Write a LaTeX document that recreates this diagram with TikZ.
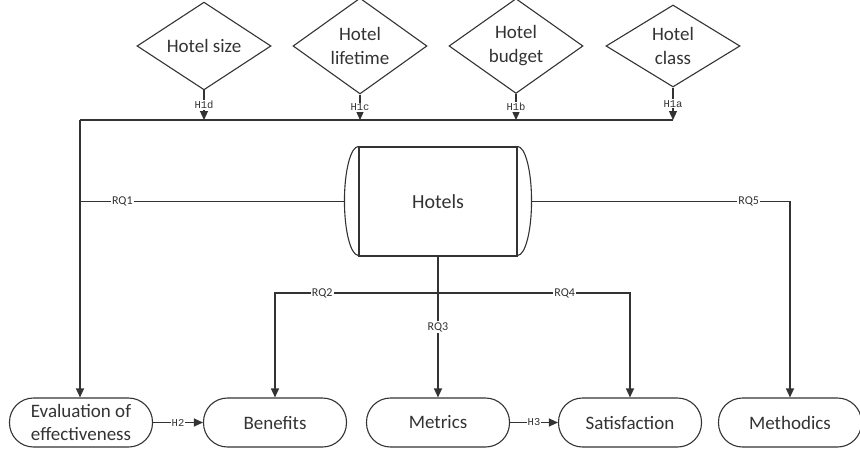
\documentclass[tikz,border=0pt]{standalone}
\usepackage{fontspec}
\usepackage{tikz}
\setmainfont{Carlito}
\newfontfamily\labelfont{Liberation Mono}
\usetikzlibrary{shapes.geometric,arrows.meta,positioning}

\begin{document}
\begin{tikzpicture}[x=1pt,y=-1pt,line width=1.1pt,color=black!80,
    factor/.style={diamond, draw, minimum width=134pt, minimum height=82pt, inner sep=0pt, align=center, font=\fontsize{19}{24}\selectfont},
    outcome/.style={rectangle, rounded corners=24pt, draw, minimum width=143pt, minimum height=49pt, inner sep=0pt, align=center, font=\fontsize{19}{23}\selectfont},
    rqlab/.style={fill=white, inner sep=1pt, font=\fontsize{12}{13}\selectfont},
    hlab/.style={fill=white, inner sep=1pt, font=\labelfont\fontsize{10.5}{11}\selectfont},
    arr/.style={-{Triangle[width=8pt,length=9pt]}}]
    \useasboundingbox (0,0) rectangle (860,450);

    % hotel factors
    \node (size) [factor] at (204,46) {Hotel size};
    \node (lifetime) [factor] at (360,46) {Hotel\\lifetime};
    \node (budget) [factor] at (516,46) {Hotel\\budget};
    \node (class) [factor] at (673,46) {Hotel\\class};

    % central object
    \node (hotels) [rectangle, draw, minimum width=158pt, minimum height=109pt, font=\fontsize{20}{24}\selectfont] at (438,201.5) {Hotels};
    \draw (hotels.north west) arc[start angle=-90, end angle=-270, x radius=14, y radius=54.5];
    \draw (hotels.north east) arc[start angle=-90, end angle=90, x radius=14, y radius=54.5];
    \coordinate (hotelsL) at ([xshift=-14pt]hotels.west);
    \coordinate (hotelsR) at ([xshift=14pt]hotels.east);

    % outcomes
    \node (eval) [outcome] at (81,422.5) {Evaluation of\\effectiveness};
    \node (benefits) [outcome] at (275,422.5) {Benefits};
    \node (metrics) [outcome] at (438,422.5) {Metrics};
    \node (satisf) [outcome] at (630,422.5) {Satisfaction};
    \node (method) [outcome] at (790,422.5) {Methodics};

    \coordinate (busL) at (80,120);
    \coordinate (busR) at (673,120);
    \coordinate (split) at (438,293);

    % bus from the factors
    \draw[line width=1.4pt] (busR) -- (busL);
    \draw[arr] (busL) -- (busL |- eval.north);
    \draw[arr] (size) -- (size |- busL) node[midway, hlab] {H1d};
    \draw[arr] (lifetime) -- (lifetime |- busL) node[midway, hlab] {H1c};
    \draw[arr] (budget) -- (budget |- busL) node[midway, hlab] {H1b};
    \draw[arr] (class) -- (class |- busL) node[midway, hlab] {H1a};

    % research questions
    \draw (hotelsL) -- (hotelsL -| busL) node[pos=0.84, rqlab] {RQ1};
    \draw[arr] (hotelsR) -| (method) node[pos=0.42, rqlab] {RQ5};
    \draw[arr] (hotels) -- (metrics) node[pos=0.5, rqlab] {RQ3};
    \draw[arr] (split) -| (benefits) node[pos=0.355, rqlab] {RQ2};
    \draw[arr] (split) -| (satisf) node[pos=0.33, rqlab] {RQ4};

    % hypotheses
    \draw[arr] (eval) -- (benefits) node[midway, hlab] {H2};
    \draw[arr] (metrics) -- (satisf) node[midway, hlab] {H3};
\end{tikzpicture}
\end{document}
